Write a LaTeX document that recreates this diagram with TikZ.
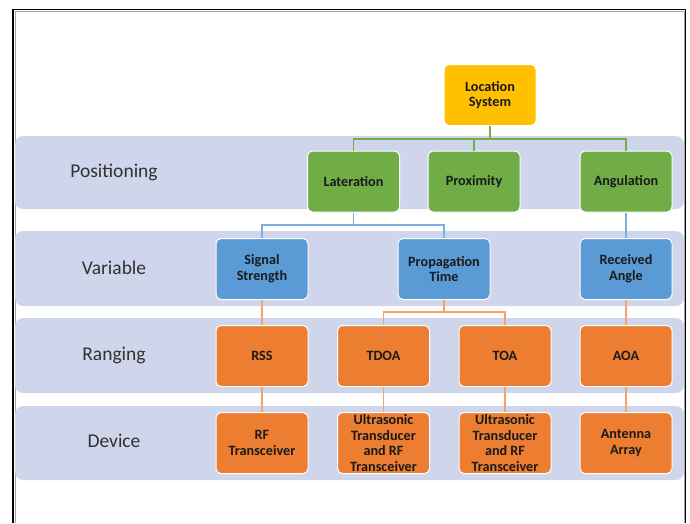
\documentclass[tikz,border=0pt]{standalone}
\usepackage{fontspec}
\setmainfont{Carlito}
\definecolor{bandc}{HTML}{CFD5EA}
\definecolor{yel}{HTML}{FFC000}
\definecolor{grn}{HTML}{70AD47}
\definecolor{blu}{HTML}{5B9BD5}
\definecolor{org}{HTML}{ED7D31}
\definecolor{gline}{HTML}{70AD47}
\definecolor{bline}{HTML}{7EAEE0}
\definecolor{oline}{HTML}{F4A26B}
\definecolor{txt}{HTML}{1A1A1A}
\begin{document}
\begin{tikzpicture}[x=1pt,y=-1pt,
  band/.style={fill=bandc,draw=none,rounded corners=8pt},
  box/.style={draw=white,line width=1pt,rounded corners=5pt,text=txt,
    font=\fontsize{14.2}{15.7}\selectfont\bfseries,align=center,
    minimum width=92pt,minimum height=61pt,inner sep=0pt},
  lbl/.style={text=txt!90,font=\fontsize{19.5}{22}\selectfont,inner sep=0pt},
  gl/.style={draw=gline,line width=1.5pt},
  bl/.style={draw=bline,line width=1.5pt},
  ol/.style={draw=oline,line width=1.5pt}]
\useasboundingbox (0,0) rectangle (690,523);
\fill[white] (0,0) rectangle (690,523);
% frame
\draw[gray!70,line width=0.8pt] (15,523) -- (15,11) -- (684,11) -- (684,523);
\draw[black,line width=1.3pt] (13,523) -- (13,9.5) -- (685.5,9.5) -- (685.5,523);
% bands
\path[band] (15,136) rectangle (684,209);
\path[band] (15,231) rectangle (684,306);
\path[band] (15,318) rectangle (684,393);
\path[band] (15,406) rectangle (684,480);
% row labels
\node[lbl] (lpos) at (114,172) {Positioning};
\node[lbl] (lvar) at (114,268) {Variable};
\node[lbl] (lran) at (114,355) {Ranging};
\node[lbl] (ldev) at (114,441) {Device};
% boxes
\node[box,fill=yel] (loc) at (490,95) {Location\\System};
\node[box,fill=grn] (lat) at (353.5,181.5) {Lateration};
\node[box,fill=grn] (prox) at (474,181.5) {Proximity};
\node[box,fill=grn] (ang) at (626,181.5) {Angulation};
\node[box,fill=blu] (sig) at (262,269) {Signal\\Strength};
\node[box,fill=blu] (prop) at (444,269) {Propagation\\Time};
\node[box,fill=blu] (rec) at (626,269) {Received\\Angle};
\node[box,fill=org] (rss) at (262,356) {RSS};
\node[box,fill=org] (tdoa) at (383.5,356) {TDOA};
\node[box,fill=org] (toa) at (505,356) {TOA};
\node[box,fill=org] (aoa) at (626,356) {AOA};
\node[box,fill=org] (rf) at (262,443) {RF\\Transceiver};
\node[box,fill=org] (us1) at (383.5,443) {Ultrasonic\\Transducer\\and RF\\Transceiver};
\node[box,fill=org] (us2) at (505,443) {Ultrasonic\\Transducer\\and RF\\Transceiver};
\node[box,fill=org] (ant) at (626,443) {Antenna\\Array};
% connector bars
\coordinate (gbar) at (0,139);
\coordinate (bbar) at (0,225);
\coordinate (obar) at (0,312);
\draw[gl] (loc.south) -- (loc.south |- gbar);
\draw[gl] (lat.north) -- (lat.north |- gbar) -- (ang.north |- gbar) -- (ang.north);
\draw[gl] (prox.north) -- (prox.north |- gbar);
\draw[bl] (lat.south) -- (lat.south |- bbar);
\draw[bl] (sig.north) -- (sig.north |- bbar) -- (prop.north |- bbar) -- (prop.north);
\draw[bl] (ang.south) -- (rec.north);
\draw[ol] (sig.south) -- (rss.north);
\draw[ol] (prop.south) -- (prop.south |- obar);
\draw[ol] (tdoa.north) -- (tdoa.north |- obar) -- (toa.north |- obar) -- (toa.north);
\draw[ol] (rec.south) -- (aoa.north);
\draw[ol] (rss.south) -- (rf.north);
\draw[ol] (tdoa.south) -- (us1.north);
\draw[ol] (toa.south) -- (us2.north);
\draw[ol] (aoa.south) -- (ant.north);
\end{tikzpicture}
\end{document}
